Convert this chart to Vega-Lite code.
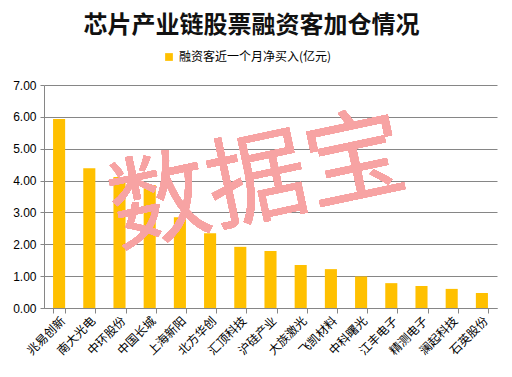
{
  "$schema": "https://vega.github.io/schema/vega-lite/v6.json",
  "width": 453,
  "height": 223,
  "autosize": {"type": "none"},
  "padding": {"left": 44, "top": 85, "right": 15, "bottom": 69},
  "background": "white",
  "config": {
    "axisX": {
      "title": null,
      "labelAngle": -45,
      "labelFont": "Noto Sans CJK SC",
      "labelFontSize": 12,
      "labelColor": "#000000",
      "labelAlign": "right",
      "labelBaseline": "top",
      "labelPadding": 2,
      "labelOverlap": false,
      "tickBand": "extent",
      "tickColor": "#868686",
      "tickSize": 5,
      "domainColor": "#868686",
      "grid": false
    },
    "axisY": {
      "title": null,
      "values": [0, 1, 2, 3, 4, 5, 6, 7],
      "tickCount": 8,
      "format": ".2f",
      "labelOverlap": false,
      "labelFont": "Liberation Sans",
      "labelFontSize": 12,
      "labelColor": "#000000",
      "labelPadding": 4,
      "tickColor": "#868686",
      "tickSize": 4,
      "domainColor": "#868686",
      "gridColor": "#868686",
      "gridOpacity": 1,
      "gridWidth": 1
    },
    "view": {"stroke": null}
  },
  "title": {
    "text": "芯片产业链股票融资客加仓情况",
    "font": "Noto Sans CJK SC",
    "fontSize": 24,
    "fontWeight": "bold",
    "color": "#111111",
    "anchor": "middle",
    "dx": -19,
    "offset": 13
  },
  "data": {
    "values": [
      {"name": "兆易创新", "value": 5.93, "s": "融资客近一个月净买入(亿元)"},
      {"name": "南大光电", "value": 4.39, "s": "融资客近一个月净买入(亿元)"},
      {"name": "中环股份", "value": 4.11, "s": "融资客近一个月净买入(亿元)"},
      {"name": "中国长城", "value": 3.86, "s": "融资客近一个月净买入(亿元)"},
      {"name": "上海新阳", "value": 2.85, "s": "融资客近一个月净买入(亿元)"},
      {"name": "北方华创", "value": 2.35, "s": "融资客近一个月净买入(亿元)"},
      {"name": "汇顶科技", "value": 1.92, "s": "融资客近一个月净买入(亿元)"},
      {"name": "沪硅产业", "value": 1.79, "s": "融资客近一个月净买入(亿元)"},
      {"name": "大族激光", "value": 1.35, "s": "融资客近一个月净买入(亿元)"},
      {"name": "飞凯材料", "value": 1.22, "s": "融资客近一个月净买入(亿元)"},
      {"name": "中科曙光", "value": 0.99, "s": "融资客近一个月净买入(亿元)"},
      {"name": "江丰电子", "value": 0.78, "s": "融资客近一个月净买入(亿元)"},
      {"name": "精测电子", "value": 0.69, "s": "融资客近一个月净买入(亿元)"},
      {"name": "澜起科技", "value": 0.6, "s": "融资客近一个月净买入(亿元)"},
      {"name": "石英股份", "value": 0.47, "s": "融资客近一个月净买入(亿元)"}
    ]
  },
  "layer": [
    {
      "mark": {"type": "bar"},
      "encoding": {
        "x": {
          "field": "name",
          "type": "nominal",
          "sort": null,
          "scale": {"paddingInner": 0.6, "paddingOuter": 0.3}
        },
        "y": {
          "field": "value",
          "type": "quantitative",
          "scale": {"domain": [0, 7], "nice": false}
        },
        "color": {
          "field": "s",
          "type": "nominal",
          "scale": {"range": ["#FFC000"]},
          "legend": {
            "title": null,
            "orient": "none",
            "legendX": 119,
            "legendY": -34,
            "direction": "horizontal",
            "symbolType": "square",
            "symbolSize": 60,
            "labelFont": "Noto Sans CJK SC",
            "labelFontSize": 12,
            "labelColor": "#000000"
          }
        }
      }
    },
    {
      "mark": {
        "type": "text",
        "text": "数据宝",
        "font": "Noto Sans CJK SC",
        "fontSize": 100,
        "fontWeight": "normal",
        "angle": -12,
        "fill": "#F7A3A3",
        "fillOpacity": 0.75,
        "align": "center",
        "baseline": "middle",
        "dx": 18
      },
      "encoding": {
        "x": {"datum": "汇顶科技", "type": "nominal"},
        "y": {"datum": 3.76, "type": "quantitative"}
      }
    }
  ]
}
